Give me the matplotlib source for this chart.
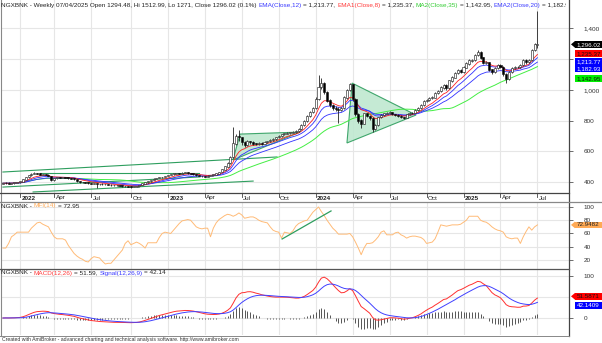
import numpy as np
import pandas as pd
import matplotlib
matplotlib.use("Agg")
import matplotlib.pyplot as plt
from matplotlib.patches import Polygon, Rectangle
from matplotlib.transforms import Bbox

W, H = 602, 343
FONT = "Liberation Sans"
plt.rcParams["font.family"] = [FONT, "DejaVu Sans"]

# ---------------- data ----------------
dates = pd.date_range("2021-11-26", "2025-07-04", freq="W-FRI")
first_open = 390
closes = [
    392, 395, 390, 393, 396, 398, 402, 415, 430, 445, 452, 458, 455, 448, 452, 446, 440, 412, 425, 430,
    428, 432, 428, 425, 422, 418, 405, 398, 400, 396, 392, 390, 392, 388, 385, 388, 384, 382, 380, 378,
    380, 376, 374, 372, 370, 368, 370, 372, 380, 390, 398, 405, 412, 420, 425, 430, 432, 438, 445, 450,
    455, 458, 455, 460, 462, 458, 455, 452, 445, 440, 438, 435, 440, 445, 448, 455, 465, 480, 500, 525,
    560, 650, 700, 690, 660, 640, 665, 660, 650, 645, 655, 650, 660, 665, 672, 680, 690, 700, 710, 715,
    720, 722, 725, 730, 745, 770, 795, 830, 855, 880, 940, 1020, 1040, 985, 930, 900, 880, 875, 870, 880,
    950, 1000, 1035, 940, 840, 800, 780, 845, 830, 815, 745, 770, 820, 835, 845, 850, 855, 840, 835, 830,
    822, 818, 840, 848, 850, 870, 882, 900, 925, 935, 945, 950, 980, 990, 1015, 1030, 1010, 1060, 1080, 1110,
    1128, 1118, 1145, 1170, 1190, 1195, 1225, 1248, 1210, 1175, 1180, 1132, 1115, 1140, 1160, 1150, 1100, 1070, 1115, 1140,
    1150, 1148, 1162, 1195, 1178, 1195, 1260, 1294.48, 1296.02,
]
highs = [
    396, 398, 397, 396, 399, 401, 406, 418, 433, 448, 456, 462, 461, 458, 455, 454, 449, 442, 428, 433,
    433, 435, 434, 430, 427, 424, 420, 407, 403, 402, 398, 394, 395, 394, 390, 391, 390, 386, 384, 382,
    383, 382, 378, 376, 374, 372, 373, 375, 383, 393, 401, 408, 415, 423, 428, 433, 435, 441, 448, 453,
    458, 461, 460, 463, 466, 464, 460, 457, 454, 447, 442, 440, 443, 448, 451, 458, 468, 484, 505, 530,
    570, 758, 712, 738, 695, 668, 672, 670, 665, 655, 660, 662, 666, 670, 678, 685, 695, 706, 715, 720,
    725, 728, 730, 736, 750, 776, 802, 838, 862, 890, 952, 1096, 1080, 1048, 990, 938, 908, 892, 885, 890,
    958, 1008, 1046, 1040, 945, 848, 808, 852, 850, 835, 820, 778, 826, 840, 852, 856, 862, 858, 845, 840,
    834, 826, 845, 853, 856, 876, 888, 906, 932, 942, 952, 958, 986, 998, 1022, 1038, 1035, 1066, 1088, 1118,
    1136, 1134, 1152, 1178, 1198, 1203, 1234, 1258, 1252, 1214, 1190, 1184, 1138, 1148, 1168, 1166, 1155, 1108, 1122, 1146,
    1156, 1158, 1168, 1202, 1200, 1202, 1268, 1302, 1512.99,
]
lows = [
    386, 389, 387, 388, 390, 393, 395, 400, 412, 428, 442, 449, 451, 445, 444, 443, 437, 408, 409, 422,
    424, 425, 425, 421, 418, 414, 401, 394, 395, 392, 388, 386, 386, 362, 380, 382, 380, 378, 376, 374,
    375, 372, 370, 368, 366, 364, 365, 367, 370, 378, 388, 396, 403, 410, 418, 423, 427, 430, 436, 443,
    448, 452, 452, 453, 457, 455, 451, 448, 441, 436, 434, 430, 432, 438, 442, 446, 452, 462, 477, 497,
    520, 555, 640, 670, 640, 628, 635, 650, 643, 638, 640, 644, 646, 655, 660, 668, 676, 686, 695, 705,
    710, 714, 716, 720, 726, 740, 765, 790, 824, 848, 875, 935, 1005, 975, 920, 890, 870, 862, 784, 862,
    875, 942, 995, 930, 830, 785, 751, 775, 820, 805, 725, 738, 765, 815, 830, 840, 845, 835, 828, 824,
    815, 812, 815, 835, 842, 846, 865, 876, 895, 920, 930, 938, 945, 975, 985, 1008, 1002, 1005, 1052, 1075,
    1102, 1110, 1112, 1140, 1164, 1184, 1190, 1218, 1200, 1166, 1168, 1125, 1105, 1110, 1134, 1142, 1090, 1045, 1065, 1110,
    1134, 1140, 1142, 1158, 1170, 1172, 1190, 1255, 1271,
]
mfi = [
    38, 38, 45, 55, 58, 62, 62, 62, 62, 62, 68, 72, 76, 77, 74, 72, 70, 62, 55, 52,
    52, 52, 50, 42, 36, 30, 26, 23, 21, 18, 17, 22, 25, 24, 23, 18, 14, 15, 15, 20,
    25, 30, 35, 45, 49, 43, 45, 47, 45, 42, 38, 46, 46, 46, 46, 54, 60, 62, 61, 60,
    65, 70, 75, 79, 80, 81, 80, 75, 70, 68, 67, 68, 68, 55, 68, 76, 81, 84, 87, 89,
    88, 86, 88, 91, 88, 83, 84, 85, 85, 83, 80, 78, 77, 76, 70, 65, 63, 62, 53, 62,
    61, 60, 64, 71, 75, 77, 79, 80, 86, 92, 96, 100, 93, 87, 80, 74, 68, 64, 59, 59,
    59, 59, 60, 55, 47, 38, 28, 38, 45, 45, 46, 50, 55, 62, 64, 58, 58, 58, 61, 62,
    58, 56, 53, 55, 56, 56, 55, 54, 51, 45, 46, 47, 52, 62, 73, 72, 71, 72, 73, 73,
    73, 74, 77, 80, 86, 86, 86, 86, 80, 78, 77, 74, 70, 67, 65, 64, 62, 55, 53, 52,
    53, 53, 45, 55, 63, 70, 65, 70, 72.95,
]

# values printed in the title and on the axis tags
last_open, last_high, last_low, last_close = 1294.48, 1512.99, 1271, 1296.02
ema12_last, ema8_last, ma35_last, ema20_last = 1213.77, 1235.37, 1142.95, 1182.93
mfi_last, macd_last, signal_last = 72.9482, 51.5871, 42.1409

price_ticks = [400, 600, 800, 1000, 1200, 1400]
price_ticklabels = ["400", "600", "800", "1,000", "", "1,400"]  # 1,200 sits under the value tags
mfi_ticks = [20, 40, 60, 80, 100]
macd_ticks = [0, 100]

# ---------------- indicators ----------------
close = np.array(closes, float)
opens = np.r_[first_open, close[:-1]]
idx = np.arange(len(close))


def ema(x, n):
    return pd.Series(x).ewm(span=n, adjust=False).mean().values


ema8 = ema(close, 8)
ema12 = ema(close, 12)
ema20 = ema(close, 20)
ma35 = pd.Series(close).rolling(35, min_periods=1).mean().values
macd = ema(close, 12) - ema(close, 26)
signal = ema(macd, 9)
hist = macd - signal

# ---------------- layout helpers ----------------
fig = plt.figure(figsize=(W / 100, H / 100), dpi=100)
fig.patch.set_facecolor("white")
L, R = 2, 569
XL = (-0.33, 199.1)
GRID = "#e6e6e6"
TXT = "#333333"
FS = 4.6


def pane(top, bottom):
    ax = fig.add_axes([L / W, 1 - bottom / H, (R - L) / W, (bottom - top) / H])
    ax.set_xlim(*XL)
    for s in ax.spines.values():
        s.set_visible(False)
    ax.yaxis.tick_right()
    ax.tick_params(axis="y", direction="out", length=3, width=0.6, color="#555555",
                   labelsize=FS, labelcolor=TXT, pad=7.5)
    ax.tick_params(axis="x", bottom=False, labelbottom=False)
    return ax


# quarter ticks: first bar of Jan/Apr/Jul/Oct
qpos, qlab, qyear = [], [], []
for k in range(1, len(dates)):
    d, p = dates[k], dates[k - 1]
    if d.month != p.month and d.month in (1, 4, 7, 10):
        qpos.append(k)
        if d.month == 1:
            qlab.append(str(d.year)); qyear.append(True)
        else:
            qlab.append(d.strftime("%b")); qyear.append(False)

# ---------------- price pane ----------------
ax = pane(0, 193)
ax.set_ylim(328.4, 1584.8)
ax.set_yticks(price_ticks)
ax.set_yticklabels(price_ticklabels)
for v in price_ticks:
    ax.axhline(v, color=GRID, lw=0.8, zorder=0)
for q in qpos:
    ax.axvline(q, color=GRID, lw=0.8, zorder=0)

# hand-drawn trend lines and patterns
GL = "#2e9e5e"
GF = "#bfe8d0"
for (i0, p0), (i1, p1) in [((0.0, 465), (96.4, 563)),
                           ((0.0, 367), (69.3, 433)),
                           ((10.6, 335), (88.0, 406)),
                           ((13.0, 459), (69.0, 459))]:
    ax.plot([i0, i1], [p0, p1], color=GL, lw=0.8, zorder=2)
ax.add_patch(Polygon([(80.9, 543), (83.4, 712), (104.5, 725)], closed=True,
                     facecolor=GF, edgecolor=GL, lw=0.8, alpha=0.9, zorder=1))
ax.add_patch(Polygon([(122.8, 1044), (121.0, 654), (145.3, 836)], closed=True,
                     facecolor=GF, edgecolor=GL, lw=0.8, alpha=0.9, zorder=1))

ax.plot(idx, ma35, color="#44ee44", lw=0.7, zorder=3)
ax.plot(idx, ema20, color="#3030ff", lw=0.6, zorder=3)
ax.plot(idx, ema12, color="#3030ff", lw=0.6, zorder=3)
ax.plot(idx, ema8, color="#ff2020", lw=0.6, zorder=3)

up = close >= opens
ax.vlines(idx, lows, highs, color="#222222", lw=0.6, zorder=4)
ax.bar(idx, np.abs(close - opens) + 1.5, bottom=np.minimum(close, opens), width=0.72,
       color=np.where(up, "white", "black"), edgecolor="#111111", linewidth=0.4, zorder=5)

# ---------------- MFI pane ----------------
am = pane(203, 269)
am.set_ylim(6.4, 106)
am.set_yticks(mfi_ticks)
for v in mfi_ticks:
    am.axhline(v, color=GRID, lw=0.8, zorder=0)
for q in qpos:
    am.axvline(q, color=GRID, lw=0.8, zorder=0)
am.plot(idx, mfi, color="#ffbb77", lw=0.7, zorder=3)
am.plot([98.2, 115.4], [51.7, 94.0], color=GL, lw=0.9, zorder=4)

# ---------------- MACD pane ----------------
ac = pane(269, 335)
ac.set_ylim(-40.5, 116.7)
ac.set_yticks(macd_ticks)
for v in (0, 50, 100):
    ac.axhline(v, color=GRID, lw=0.8, zorder=0)
for q in qpos:
    ac.axvline(q, color=GRID, lw=0.8, zorder=0)
ac.vlines(idx, 0, hist, color="#555555", lw=0.7, zorder=2)
ac.plot(idx, macd, color="#ff3030", lw=0.7, zorder=3)
ac.plot(idx, signal, color="#4040ff", lw=0.7, zorder=3)

# ---------------- overlay in pixel units ----------------
ov = fig.add_axes([0, 0, 1, 1], zorder=10)
ov.set_xlim(0, W)
ov.set_ylim(H, 0)
ov.axis("off")
ov.patch.set_alpha(0)

# frame lines
ov.plot([0.5, 0.5], [0, 336], color="#888888", lw=0.8)
ov.plot([R, R], [0, 336], color="#444444", lw=0.9)
ov.plot([0, R], [193, 193], color="#444444", lw=0.9)
ov.plot([0, W], [202, 202], color="#888888", lw=0.9)
ov.plot([0, R], [269, 269], color="#555555", lw=0.9)
ov.plot([0, R], [336, 336], color="#888888", lw=0.7)


def xpix(i):
    return L + (i - XL[0]) / (XL[1] - XL[0]) * (R - L)


for q, lab, yr in zip(qpos, qlab, qyear):
    x = xpix(q)
    ov.plot([x, x], [193, 197], color="#444444", lw=0.6)
    ov.text(x + 1.5, 198, lab, fontsize=FS, color="#222222", ha="left", va="center",
            fontweight="bold" if yr else "normal")

renderer = fig.canvas.get_renderer()
gap_probe = ov.text(0, 0, "x x", fontsize=FS)
w3 = gap_probe.get_window_extent(renderer).width
gap_probe.set_text("xx")
SP = w3 - gap_probe.get_window_extent(renderer).width
gap_probe.remove()


def chain(x, y, parts, size=FS, clip_x=None):
    for s, c in parts:
        t = ov.text(x, y, s, color=c, fontsize=size, ha="left", va="center")
        if clip_x is not None:
            t.set_clip_box(Bbox.from_extents(0, 0, clip_x, H))
            t.set_clip_on(True)
        x += t.get_window_extent(renderer).width + SP


DK = "#222222"
BL = "#3a3aff"
RD = "#ff3a3a"
GR = "#33cc33"
OR = "#ffaa55"
chain(1, 5, [
    (f"NGXBNK - Weekly {dates[-1]:%m/%d/%Y} Open {last_open}, Hi {last_high}, Lo {last_low:g}, "
     f"Close {last_close} ({(close[-1] / close[-2] - 1) * 100:.1f}%)", DK),
    ("EMA(Close,12)", BL), (f"= {ema12_last:,.2f},", DK),
    ("EMA1(Close,8)", RD), (f"= {ema8_last:,.2f},", DK),
    ("MA2(Close,35)", GR), (f"= {ma35_last:,.2f},", DK),
    ("EMA2(Close,20)", BL), (f"= {ema20_last:,.2f}", DK),
], size=4.6, clip_x=566)
chain(1, 206, [("NGXBNK -", DK), ("MFI(14)", OR), (f"= {mfi_last:.2f}", DK)], size=4.6)
chain(1, 273, [("NGXBNK -", DK), ("MACD(12,26)", RD), (f"= {macd_last:.2f},", DK),
               ("Signal(12,26,9)", BL), (f"= {signal_last:.2f}", DK)], size=4.6)
ov.text(2, 339.5, "Created with AmiBroker - advanced charting and technical analysis software. "
        "http://www.amibroker.com", fontsize=3.7, color="#333333", ha="left", va="center")


def tag(yc, text, face, fg, arrow=False, x0=575.0, h=6.8):
    ov.add_patch(Rectangle((x0, yc - h / 2), W - x0, h, facecolor=face, edgecolor="none", zorder=5))
    if arrow:
        ov.add_patch(Polygon([(x0, yc - h / 2), (x0 - 4, yc), (x0, yc + h / 2)],
                             closed=True, facecolor=face, edgecolor="none", zorder=5))
    ov.text(x0 + 1.5, yc, text, fontsize=4.5, color=fg, ha="left", va="center", zorder=6)


def ypix_price(v):
    return 182 - (v - 400) / 6.51


tag(ypix_price(last_close), f"{last_close:,.2f}", "#000000", "white", arrow=True)
tag(ypix_price(ema8_last), f"{ema8_last:,.2f}", "#ff0000", "#111111")
tag(ypix_price(ema8_last) + 7.7, f"{ema12_last:,.2f}", "#0000ff", "white")
tag(ypix_price(ema8_last) + 15.0, f"{ema20_last:,.2f}", "#0000ff", "white")
tag(ypix_price(ma35_last) + 10.5, f"{ma35_last:,.2f}", "#00ee00", "#111111")
tag(207 + (100 - mfi_last) * 0.6625, f"{mfi_last:.4f}", "#ffaa55", "#222222", arrow=True)
tag(318 - macd_last * 0.42, f"{macd_last:.4f}", "#ff0000", "#111111", arrow=True)
tag(318 - signal_last * 0.42 + 5, f"{signal_last:.4f}", "#0000ff", "white")

fig.savefig("out.png", dpi=100, facecolor="white")
